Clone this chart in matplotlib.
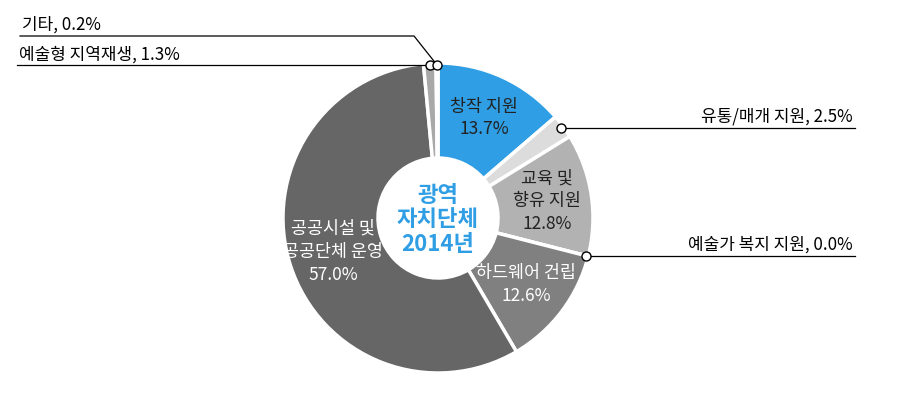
import numpy as np
import matplotlib.pyplot as plt

plt.rcParams['font.family'] = ['Noto Sans CJK KR', 'DejaVu Sans']

# data
labels = ['창작 지원', '유통/매개 지원', '교육 및\n향유 지원', '예술가 복지 지원',
          '하드웨어 건립', '공공시설 및\n공공단체 운영', '예술형 지역재생', '기타']
values = [13.7, 2.5, 12.8, 0.0, 12.6, 57.0, 1.3, 0.2]
colors = ['#2f9ee4', '#dcdcdc', '#b2b2b2', '#999999', '#808080', '#666666', '#a8a8a8', '#dcdcdc']
center_title = '광역\n자치단체\n2014년'

# label style: 'in' = inside the ring, 'right'/'left' = leader line
placement = ['in', 'right', 'in', 'right', 'in', 'in', 'left', 'left_up']
text_colors = ['#222222', None, '#222222', None, 'white', 'white', None, None]

W, H = 910, 415
fig = plt.figure(figsize=(W / 100, H / 100), dpi=100)
ax = fig.add_axes([0, 0, 1, 1])

cx, cy = 438, 197
R, R_in = 155, 60

wedges, _ = ax.pie(values, colors=colors, startangle=90, counterclock=False,
                   center=(cx, cy), radius=R, frame=True,
                   wedgeprops=dict(width=R - R_in, edgecolor='white', linewidth=2.5))
ax.set_xlim(0, W)
ax.set_ylim(0, H)
ax.set_aspect('equal')
ax.axis('off')

ax.text(cx, cy - 2, center_title, ha='center', va='center', fontsize=16,
        fontweight='bold', color='#2f9ee4', linespacing=1.1)

total = sum(values)
start = 90.0
for lab, v, pl, tc in zip(labels, values, placement, text_colors):
    span = 360.0 * v / total
    mid = np.deg2rad(start - span / 2)
    start -= span
    if pl == 'in':
        r = 110
        ax.text(cx + r * np.cos(mid), cy + r * np.sin(mid), f'{lab}\n{v:.1f}%',
                ha='center', va='center', fontsize=12.5, color=tc, linespacing=1.35)
        continue
    mx, my = cx + (R - 2) * np.cos(mid), cy + (R - 2) * np.sin(mid)
    txt = f'{lab.replace(chr(10), " ")}, {v:.1f}%'
    if pl == 'right':
        ax.plot([mx, 855], [my, my], color='black', lw=0.9, zorder=3)
        ax.text(853, my + 2, txt, ha='right', va='bottom', fontsize=12.2)
    elif pl == 'left':
        ax.plot([mx, 17], [my, my], color='black', lw=0.9, zorder=3)
        ax.text(19, my + 2, txt, ha='left', va='bottom', fontsize=12.2)
    else:
        ex, ey = mx - 23, my + 29
        ax.plot([mx, ex, 20], [my, ey, ey], color='black', lw=0.9, zorder=3)
        ax.text(22, ey + 2, txt, ha='left', va='bottom', fontsize=12.2)
    ax.plot(mx, my, 'o', ms=6.5, mfc='white', mec='black', mew=1, zorder=4)

fig.savefig('out.png', dpi=100)
